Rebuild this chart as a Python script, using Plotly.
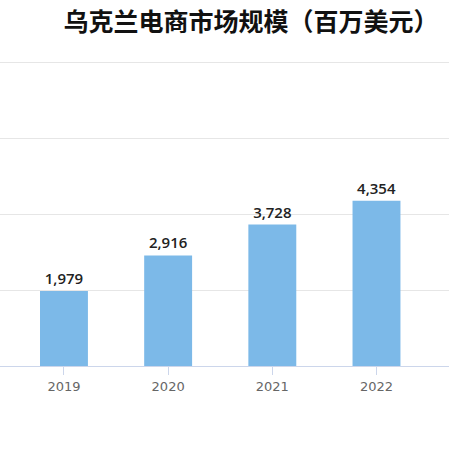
import plotly.graph_objects as go

years = ["2019", "2020", "2021", "2022"]
values = [1979, 2916, 3728, 4354]
labels = ["1,979", "2,916", "3,728", "4,354"]
title_text = "乌克兰电商市场规模（百万美元）"

fig = go.Figure(go.Bar(
    x=years, y=values, text=labels, textposition="outside",
    textfont=dict(family="Open Sans, DejaVu Sans", size=15, color="#222222", weight=600),
    marker=dict(color="#7cb9e8", line=dict(width=0)),
    width=0.46, cliponaxis=False,
))

fig.update_layout(
    width=449, height=449,
    margin=dict(l=0, r=0, t=60.5, b=82.5),
    paper_bgcolor="white", plot_bgcolor="white",
    showlegend=False,
    title=dict(text="<b>" + title_text + "</b>", x=0.559, xanchor="center",
               y=0.951, yanchor="middle",
               font=dict(family="Noto Sans CJK SC", size=25, color="#111111")),
    xaxis=dict(type="category", range=[-0.614, 3.696],
               showline=True, linecolor="#ccd6eb", linewidth=1,
               ticks="outside", ticklen=8, tickcolor="#ccd6eb",
               tickfont=dict(family="DejaVu Sans", size=13, color="#666666"),
               showgrid=False, fixedrange=True),
    yaxis=dict(range=[0, 8040], tickvals=[0, 2000, 4000, 6000, 8000], showticklabels=False,
               showgrid=True, gridcolor="#e6e6e6", zeroline=False,
               fixedrange=True),
)

fig.write_html("out.html", config={"displayModeBar": False},
               post_script="document.body.style.margin='0';document.body.style.overflow='hidden';")
